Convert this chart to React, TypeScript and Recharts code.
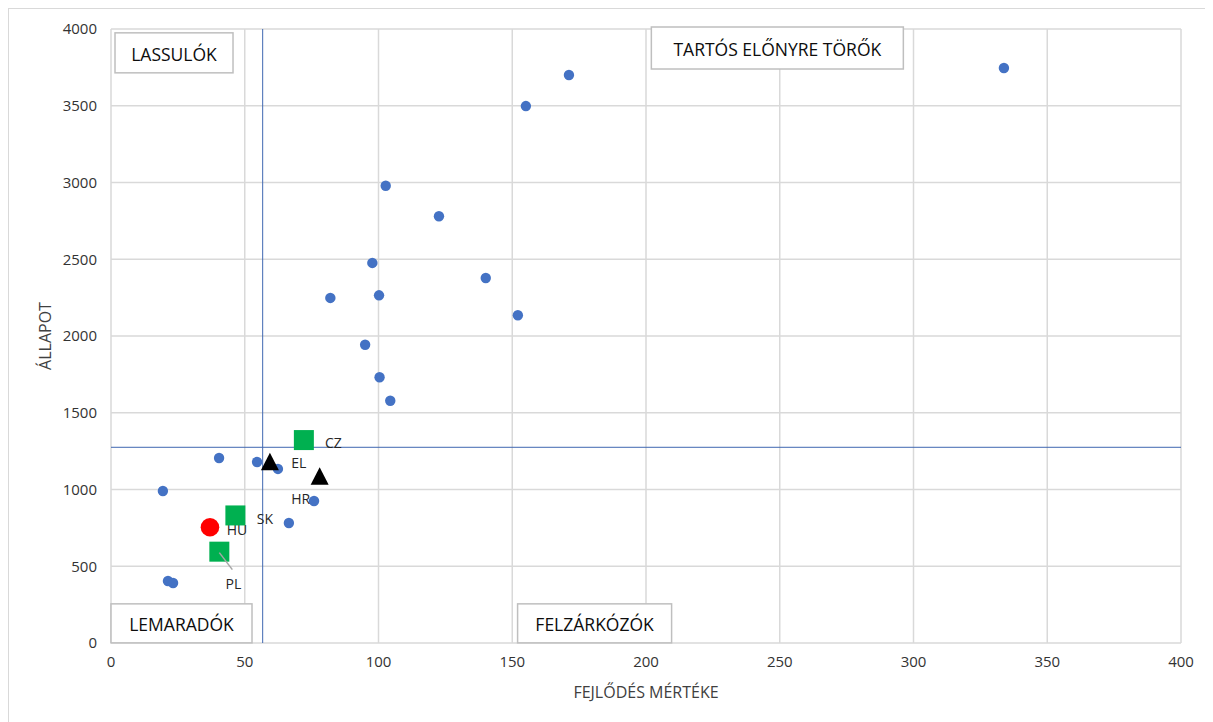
import React from 'react';
import { ScatterChart, Scatter, XAxis, YAxis, CartesianGrid, ReferenceLine, ReferenceDot } from 'recharts';

// ---- data ----
const xTicks = [0, 50, 100, 150, 200, 250, 300, 350, 400];
const yTicks = [0, 500, 1000, 1500, 2000, 2500, 3000, 3500, 4000];

const otherX = [19.4, 40.4, 54.6, 62.4, 75.9, 66.5, 21.3, 23.2, 102.7, 122.6, 97.7, 140.1, 82.0, 100.2, 152.1, 95.0, 100.4, 104.4, 155.1, 171.2, 333.8];
const otherY = [990, 1205, 1179, 1134, 925, 782, 404, 391, 2979, 2780, 2476, 2378, 2248, 2265, 2135, 1943, 1731, 1578, 3498, 3700, 3746];

const v4Names = ['CZ', 'SK', 'PL'];
const v4X = [72.1, 46.5, 40.5];
const v4Y = [1322, 831, 595];

const huNames = ['HU'];
const huX = [37.0];
const huY = [754];

const triNames = ['EL', 'HR'];
const triX = [59.4, 78.0];
const triY = [1181, 1087];

const avgX = 56.7;
const avgY = 1275;

const quadrantNames = ['LASSULÓK', 'TARTÓS ELŐNYRE TÖRŐK', 'LEMARADÓK', 'FELZÁRKÓZÓK'];
const quadrantX = [1.5, 202, 0, 152];
const quadrantY = [3975, 4000, 255, 255];

// ---- presentation ----
const labelOffset: Record<string, [number, number]> = {
  CZ: [29.5, 2],
  SK: [29.5, 3],
  PL: [14, 32],
  HU: [27, 2],
  EL: [29, 1],
  HR: [-19, 22],
};
const quadrantBox: Record<string, [number, number, number, number]> = {
  'LASSULÓK': [118, 40, 0, 0],
  'TARTÓS ELŐNYRE TÖRŐK': [252, 42, 0, -2],
  'LEMARADÓK': [141, 39, 0, 0],
  'FELZÁRKÓZÓK': [154, 39, 0, 0],
};

const zip = (xs: number[], ys: number[], names?: string[]) =>
  xs.map((x, i) => ({ x, y: ys[i], name: names ? names[i] : '' }));

const otherData = zip(otherX, otherY);
const v4Data = zip(v4X, v4Y, v4Names);
const huData = zip(huX, huY, huNames);
const triData = zip(triX, triY, triNames);

const FONT = "'Open Sans', sans-serif";

const PointLabel = ({ cx, cy, name }: any) => {
  const [dx, dy] = labelOffset[name] || [0, 0];
  return (
    <g>
      {name === 'PL' && (
        <line x1={cx} y1={cy + 1} x2={cx + 13} y2={cy + 18} stroke="#a6a6a6" strokeWidth={1.5} />
      )}
      <text x={cx + dx} y={cy + dy} textAnchor="middle" dominantBaseline="central" fontSize={14} fill="#262626" fontFamily={FONT}>
        {name}
      </text>
    </g>
  );
};

const DotShape = (props: any) => <circle cx={props.cx} cy={props.cy} r={5.2} fill="#4472C4" />;

const SquareShape = (props: any) => (
  <g>
    <rect x={props.cx - 10} y={props.cy - 10} width={20} height={20} fill="#00B050" />
    <PointLabel cx={props.cx} cy={props.cy} name={props.payload.name} />
  </g>
);

const RedShape = (props: any) => (
  <g>
    <circle cx={props.cx} cy={props.cy} r={9.3} fill="#FF0000" />
    <PointLabel cx={props.cx} cy={props.cy} name={props.payload.name} />
  </g>
);

const TriShape = (props: any) => (
  <g>
    <polygon
      points={`${props.cx},${props.cy - 9} ${props.cx + 9},${props.cy + 8.5} ${props.cx - 9},${props.cy + 8.5}`}
      fill="#000000"
    />
    <PointLabel cx={props.cx} cy={props.cy} name={props.payload.name} />
  </g>
);

const makeQuadrant = (name: string) => (props: any) => {
  const [w, h, ox, oy] = quadrantBox[name];
  const x = props.cx + ox;
  const y = props.cy + oy;
  return (
    <g>
      <rect x={x} y={y} width={w} height={h} fill="#ffffff" stroke="#bfbfbf" strokeWidth={1.5} />
      <text x={x + w / 2} y={y + h / 2 + 1} textAnchor="middle" dominantBaseline="central" fontSize={17.5} fill="#0d0d0d" fontFamily={FONT}>
        {name}
      </text>
    </g>
  );
};

export default function App() {
  return (
    <div
      style={{
        width: 1205,
        height: 714,
        borderLeft: '1px solid #d9d9d9',
        borderTop: '1px solid #d9d9d9',
        boxSizing: 'border-box',
        fontFamily: FONT,
        background: '#fff',
      }}
    >
      <ScatterChart width={1204} height={713} margin={{ top: 20, right: 32, left: 20, bottom: 19 }}>
        <CartesianGrid stroke="#d9d9d9" strokeWidth={1.5} />
        <XAxis
          type="number"
          dataKey="x"
          domain={[0, 400]}
          ticks={xTicks}
          height={60}
          axisLine={false}
          tickLine={false}
          tickSize={0}
          tickMargin={13}
          tick={{ fontSize: 15, fill: '#333333', fontFamily: FONT }}
          label={{
            content: ({ viewBox }: any) => (
              <text x={viewBox.x + viewBox.width / 2} y={viewBox.y + 49} textAnchor="middle" dominantBaseline="central" fontSize={16} fill="#404040" fontFamily={FONT}>
                FEJLŐDÉS MÉRTÉKE
              </text>
            ),
          }}
        />
        <YAxis
          type="number"
          dataKey="y"
          domain={[0, 4000]}
          ticks={yTicks}
          width={82}
          axisLine={false}
          tickLine={false}
          tickSize={0}
          tickMargin={14}
          tick={{ fontSize: 15, fill: '#333333', fontFamily: FONT }}
          label={{
            content: ({ viewBox }: any) => {
              const cx = viewBox.x + 16;
              const cy = viewBox.y + viewBox.height / 2;
              return (
                <text x={cx} y={cy} transform={`rotate(-90 ${cx} ${cy})`} textAnchor="middle" dominantBaseline="central" fontSize={16} fill="#404040" fontFamily={FONT}>
                  ÁLLAPOT
                </text>
              );
            },
          }}
        />
        <ReferenceLine x={avgX} stroke="#3F67B1" strokeWidth={1} />
        <ReferenceLine y={avgY} stroke="#3F67B1" strokeWidth={1} />
        <Scatter data={otherData} shape={DotShape} isAnimationActive={false} />
        <Scatter data={triData} shape={TriShape} isAnimationActive={false} />
        <Scatter data={huData} shape={RedShape} isAnimationActive={false} />
        <Scatter data={v4Data} shape={SquareShape} isAnimationActive={false} />
        {quadrantNames.map((n, i) => (
          <ReferenceDot
            key={n}
            x={quadrantX[i]}
            y={quadrantY[i]}
            r={1}
            ifOverflow="visible"
            shape={makeQuadrant(n)}
          />
        ))}
      </ScatterChart>
    </div>
  );
}
